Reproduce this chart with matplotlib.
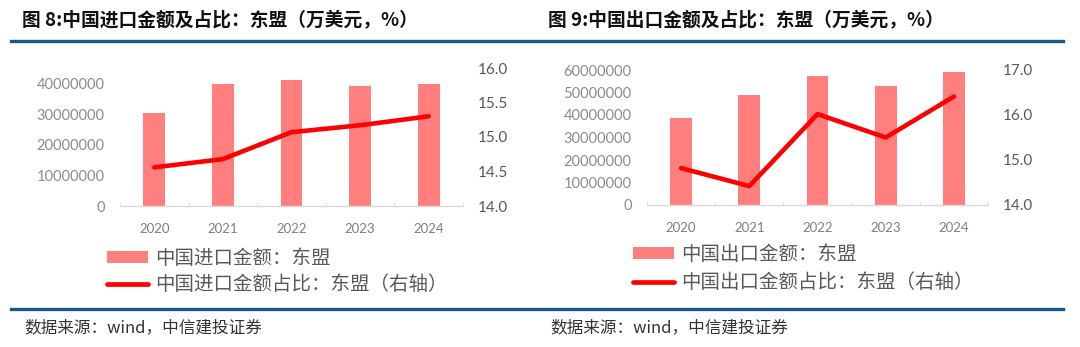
import matplotlib
matplotlib.use("Agg")
import matplotlib.pyplot as plt
from matplotlib.lines import Line2D
from matplotlib.patches import Patch
from matplotlib.ticker import FixedLocator, FuncFormatter
import numpy as np

plt.rcParams['font.family'] = ['Noto Sans CJK SC', 'DejaVu Sans']

years = ["2020", "2021", "2022", "2023", "2024"]
imports_value = [30300000, 39800000, 41100000, 39000000, 39800000]
imports_share = [14.56, 14.68, 15.07, 15.17, 15.30]
exports_value = [38700000, 48800000, 57300000, 53100000, 59200000]
exports_share = [14.82, 14.42, 16.02, 15.50, 16.41]

title_left = "图 8:中国进口金额及占比：东盟（万美元，%）"
title_right = "图 9:中国出口金额及占比：东盟（万美元，%）"
legend_left = ["中国进口金额：东盟", "中国进口金额占比：东盟（右轴）"]
legend_right = ["中国出口金额：东盟", "中国出口金额占比：东盟（右轴）"]
source = "数据来源：wind，中信建投证券"

W, H = 1080, 347
fig = plt.figure(figsize=(W / 100, H / 100), dpi=100)

BAR = "#ff7f7f"
LINE = "#ff0000"
BLUE = "#1f5683"


def px_axes(x0, y0, x1, y1):
    return fig.add_axes([x0 / W, 1 - y1 / H, (x1 - x0) / W, (y1 - y0) / H])


def draw(rect, vals, share, ylim, yticks, rlim, rticks, leg, leg_xy, lspace):
    ax = px_axes(*rect)
    x = np.arange(len(years))
    ax.bar(x, vals, width=0.32, color=BAR, zorder=2)
    ax.set_xlim(-0.5, len(years) - 0.5)
    ax.set_ylim(*ylim)
    ax.set_yticks(yticks)
    ax.yaxis.set_major_formatter(FuncFormatter(lambda v, p: f"{int(v)}"))
    ax.set_xticks(x)
    ax.set_xticklabels(years)
    ax.xaxis.set_minor_locator(FixedLocator(np.arange(-0.5, len(years), 1.0)))
    for s in ["top", "left", "right"]:
        ax.spines[s].set_visible(False)
    ax.spines["bottom"].set_color("#d9d9d9")
    ax.spines["bottom"].set_linewidth(1.0)
    ax.tick_params(axis="x", which="major", length=0, pad=12, labelsize=9.5,
                   labelcolor="#7f7f7f")
    ax.tick_params(axis="x", which="minor", length=3, direction="in",
                   color="#d9d9d9")
    ax.tick_params(axis="y", length=0, pad=11, labelsize=10.5,
                   labelcolor="#8c8c8c")
    for t in ax.get_yticklabels() + ax.get_xticklabels():
        t.set_fontfamily(["Lato", "DejaVu Sans"])

    ax2 = ax.twinx()
    ax2.plot(x, share, color=LINE, linewidth=3.3, solid_capstyle="round",
             solid_joinstyle="round", zorder=3)
    ax2.set_ylim(*rlim)
    ax2.set_yticks(rticks)
    ax2.yaxis.set_major_formatter(FuncFormatter(lambda v, p: f"{v:.1f}"))
    for s in ["top", "left", "right", "bottom"]:
        ax2.spines[s].set_visible(False)
    ax2.tick_params(axis="y", length=0, pad=11, labelsize=11,
                    labelcolor="#595959")
    for t in ax2.get_yticklabels():
        t.set_fontfamily(["Lato", "DejaVu Sans"])

    handles = [Patch(facecolor=BAR, edgecolor="none"),
               Line2D([0], [0], color=LINE, linewidth=3.4, solid_capstyle="round")]
    fig.legend(handles, leg, loc="upper left",
               bbox_to_anchor=(leg_xy[0] / W, 1 - leg_xy[1] / H),
               frameon=False, fontsize=14, handlelength=2.1,
               handleheight=0.6, handletextpad=0.35, labelspacing=lspace,
               borderpad=0, borderaxespad=0, labelcolor="#595959")
    return ax


draw((120, 68, 463, 206), imports_value, imports_share,
     (0, 45000000), [0, 10000000, 20000000, 30000000, 40000000],
     (14.0, 16.0), [14.0, 14.5, 15.0, 15.5, 16.0],
     legend_left, (107, 248), 0.28)

draw((647, 70, 988, 205), exports_value, exports_share,
     (0, 60000000), [0, 10000000, 20000000, 30000000, 40000000, 50000000, 60000000],
     (14.0, 17.0), [14.0, 15.0, 16.0, 17.0],
     legend_right, (633, 244), 0.38)

# titles
fig.text(22 / W, 1 - 21 / H, title_left, fontsize=13.5, fontweight="bold",
         color="#111111", va="center", ha="left")
fig.text(548 / W, 1 - 21 / H, title_right, fontsize=13.5, fontweight="bold",
         color="#111111", va="center", ha="left")

# blue rules
for yy in (41, 309):
    fig.add_artist(Line2D([11 / W, 1063 / W], [1 - yy / H, 1 - yy / H],
                          color=BLUE, linewidth=2.4, transform=fig.transFigure))

# sources
fig.text(24 / W, 1 - 328 / H, source, fontsize=12, style="italic",
         color="#333333", va="center", ha="left")
fig.text(550 / W, 1 - 328 / H, source, fontsize=12, style="italic",
         color="#333333", va="center", ha="left")

fig.savefig("out.png", dpi=100)
